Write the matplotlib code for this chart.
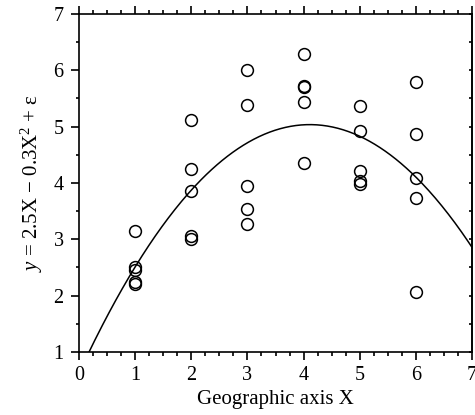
import numpy as np
import matplotlib
matplotlib.use("Agg")
import matplotlib.pyplot as plt

# observed points, 5 per site
x_pts = [1, 1, 1, 1, 1,
         2, 2, 2, 2, 2,
         3, 3, 3, 3, 3,
         4, 4, 4, 4, 4,
         5, 5, 5, 5, 5,
         6, 6, 6, 6, 6]
y_pts = [3.15, 2.50, 2.45, 2.24, 2.21,
         5.12, 4.25, 3.86, 3.06, 3.00,
         6.01, 5.39, 3.95, 3.54, 3.28,
         6.29, 5.73, 5.70, 5.43, 4.35,
         5.36, 4.93, 4.22, 4.04, 3.98,
         5.79, 4.87, 4.09, 3.73, 2.06]

# fitted quadratic (a + b*X + c*X^2)
fit_coef = [0.625, 2.146, -0.261]

plt.rcParams['font.family'] = ['Liberation Serif', 'DejaVu Serif']
plt.rcParams['mathtext.fontset'] = 'custom'
plt.rcParams['mathtext.rm'] = 'Liberation Serif'
plt.rcParams['mathtext.it'] = 'Liberation Serif:italic'

fig = plt.figure(figsize=(4.75, 4.15), dpi=100)
ax = fig.add_axes([0.1663, 0.1518, 0.8274, 0.8145])

xs = np.linspace(0, 7, 300)
ys = fit_coef[0] + fit_coef[1] * xs + fit_coef[2] * xs ** 2
ax.plot(xs, ys, color='black', linewidth=1.1)

ax.plot(x_pts, y_pts, linestyle='none', marker='o', markersize=8.5,
        markerfacecolor='none', markeredgecolor='black', markeredgewidth=1.1)

ax.set_xlim(0, 7)
ax.set_ylim(1, 7)
ax.set_xticks(np.arange(0, 8, 1))
ax.set_xticks(np.arange(0, 7.01, 0.25), minor=True)
ax.set_yticks(np.arange(1, 8, 1))
ax.set_yticks(np.arange(1, 7.01, 0.5), minor=True)

for s in ax.spines.values():
    s.set_linewidth(1.2)

ax.tick_params(axis='x', which='both', direction='out', top=True, bottom=True,
               width=1.2, labelsize=14.5, pad=4)
ax.tick_params(axis='x', which='major', length=6)
ax.tick_params(axis='x', which='minor', length=3)
ax.tick_params(axis='y', which='both', direction='out', left=True, right=False,
               width=1.2, labelsize=14.5, pad=5)
ax.tick_params(axis='y', which='major', length=6)
ax.tick_params(axis='y', which='minor', length=2.5)

sec = ax.secondary_yaxis('right')
sec.set_yticks(np.arange(1, 7.01, 0.5))
sec.tick_params(direction='in', length=2.5, width=1.2, labelright=False)
sec.spines['right'].set_linewidth(1.2)

ax.set_xlabel('Geographic axis X', fontsize=15, labelpad=4)
ax.set_ylabel(r'$y$ = 2.5X − 0.3X$^2$ + ε', fontsize=15, labelpad=6)

fig.savefig('out.png', dpi=100)
